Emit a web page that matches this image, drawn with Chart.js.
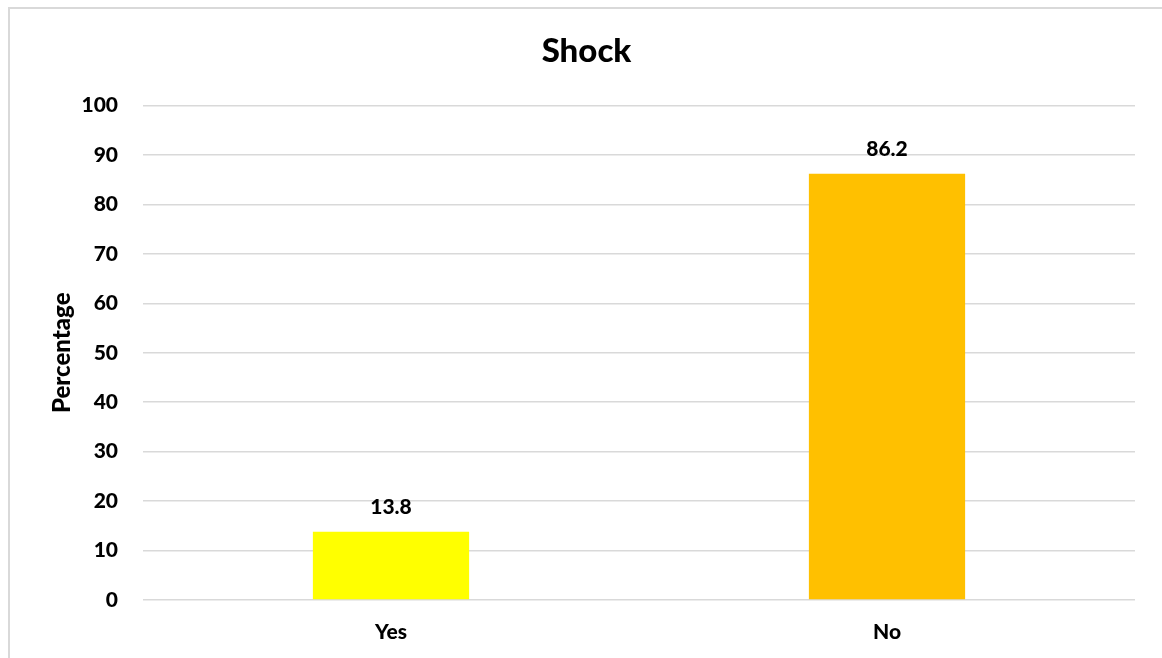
<!DOCTYPE html>
<html>
<head>
<meta charset="utf-8">
<title>Shock</title>
<script src="https://cdn.jsdelivr.net/npm/chart.js@4"></script>
<style>
  html, body { margin: 0; padding: 0; background: #fff; overflow: hidden; }
  #frame {
    position: absolute; left: 8px; top: 7px; width: 1170px; height: 680px;
    border: 2px solid #d9d9d9; box-sizing: border-box;
  }
  #chart { position: absolute; left: 0; top: 0; }
</style>
</head>
<body>
<div id="frame"></div>
<canvas id="chart" width="1162" height="658"></canvas>
<script>
const categories = ['Yes', 'No'];
const percentages = [13.8, 86.2];
const barColors = ['#FFFF00', '#FFC000'];
const yTicks = [0, 10, 20, 30, 40, 50, 60, 70, 80, 90, 100];

const FONT = 'Lato, "Open Sans", sans-serif';
const GRID = '#d9d9d9';
const WEIGHT = '900';

// writes each bar's value just above it
const valueLabels = {
  id: 'valueLabels',
  afterDatasetsDraw(chart) {
    const ctx = chart.ctx;
    const meta = chart.getDatasetMeta(0);
    ctx.save();
    ctx.font = WEIGHT + ' 21px ' + FONT;
    ctx.fillStyle = '#000';
    ctx.textAlign = 'center';
    ctx.textBaseline = 'middle';
    meta.data.forEach((bar, i) => {
      ctx.fillText(percentages[i].toFixed(1), bar.x, bar.y - 25);
    });
    ctx.restore();
  }
};

new Chart(document.getElementById('chart'), {
  type: 'bar',
  data: {
    labels: categories,
    datasets: [{
      data: percentages,
      backgroundColor: barColors,
      borderWidth: 0,
      categoryPercentage: 1,
      barPercentage: 0.315
    }]
  },
  options: {
    responsive: false,
    devicePixelRatio: 1,
    animation: false,
    layout: { padding: { left: 38, top: 6, right: 27, bottom: 0 } },
    plugins: {
      legend: { display: false },
      tooltip: { enabled: false },
      title: {
        display: true,
        text: 'Shock',
        color: '#000',
        font: { family: FONT, size: 33, weight: WEIGHT },
        padding: { top: 26, bottom: 34 }
      }
    },
    scales: {
      x: {
        grid: { display: false, drawTicks: false },
        border: { display: false },
        ticks: {
          color: '#000',
          font: { family: FONT, size: 21, weight: WEIGHT },
          padding: 20
        },
        afterFit(scale) { scale.height = 58; }
      },
      y: {
        min: 0,
        max: 100,
        afterBuildTicks(scale) { scale.ticks = yTicks.map(v => ({ value: v })); },
        grid: { color: GRID, lineWidth: 1.5, drawTicks: false },
        border: { display: false },
        ticks: {
          color: '#000',
          font: { family: FONT, size: 21, weight: WEIGHT },
          padding: 25
        },
        title: {
          display: true,
          text: 'Percentage',
          color: '#000',
          font: { family: FONT, size: 24, weight: WEIGHT },
          padding: { top: 10, bottom: 0 }
        },
        afterFit(scale) { scale.width = 105; }
      }
    }
  },
  plugins: [valueLabels]
});
</script>
</body>
</html>
